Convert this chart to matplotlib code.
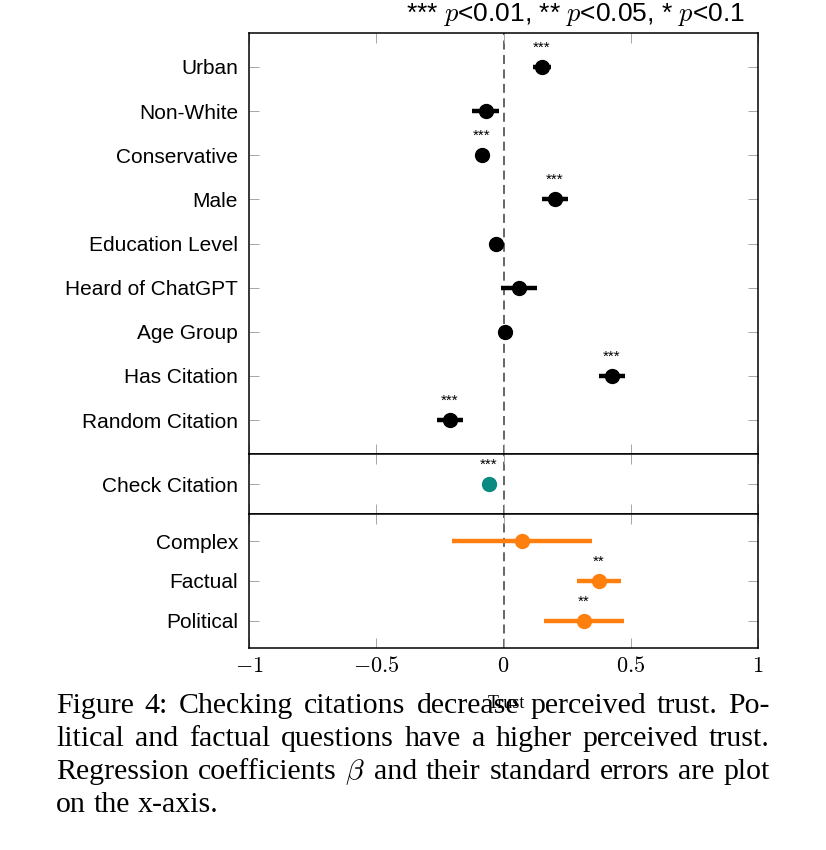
import matplotlib
matplotlib.use("Agg")
import matplotlib.pyplot as plt
from matplotlib.ticker import FixedLocator, FuncFormatter

plt.rcParams['mathtext.fontset'] = 'cm'
plt.rcParams['font.family'] = ['Liberation Sans', 'DejaVu Sans']

# coefficients and standard errors
top_labels = ['Urban', 'Non-White', 'Conservative', 'Male', 'Education Level',
              'Heard of ChatGPT', 'Age Group', 'Has Citation', 'Random Citation']
top_coef = [0.151, -0.069, -0.085, 0.202, -0.030, 0.061, 0.006, 0.426, -0.210]
top_err = [0.037, 0.053, 0.010, 0.050, 0.015, 0.069, 0.008, 0.050, 0.050]
top_stars = ['***', '', '***', '***', '', '', '', '***', '***']

mid_labels = ['Check Citation']
mid_coef = [-0.057]
mid_err = [0.010]
mid_stars = ['***']

bot_labels = ['Complex', 'Factual', 'Political']
bot_coef = [0.073, 0.375, 0.316]
bot_err = [0.275, 0.086, 0.157]
bot_stars = ['', '**', '**']

xticks = [-1, -0.5, 0, 0.5, 1]

caption = [
    "Figure 4: Checking citations decrease perceived trust. Po-",
    "litical and factual questions have a higher perceived trust.",
    "Regression coefficients $\\beta$ and their standard errors are plot",
    "on the x-axis.",
]

W, H = 826, 850
fig = plt.figure(figsize=(W / 100, H / 100), dpi=100)


def px_axes(top, bottom):
    return fig.add_axes([249 / W, (H - bottom) / H, 509 / W, (bottom - top) / H])


def panel(ax, labels, coef, err, stars, color, pad):
    n = len(labels)
    ys = list(range(n))
    ax.errorbar(coef, ys, xerr=err, fmt='o', color=color, ms=10, elinewidth=3.2,
                capsize=0, zorder=3)
    for x, y, s in zip(coef, ys, stars):
        if s:
            ax.annotate(s, (x, y), xytext=(0, 14), textcoords='offset points',
                        ha='center', va='center', fontsize=11)
    ax.axvline(0, color='0.35', lw=1.3, ls=(0, (5, 3)), zorder=1)
    ax.set_xlim(-1, 1)
    ax.set_ylim(n - 1 + pad, -pad)
    ax.set_yticks(ys)
    ax.set_yticklabels(labels, fontsize=15)
    ax.xaxis.set_major_locator(FixedLocator(xticks))
    ax.tick_params(direction='in', length=7, width=0.7, color='0.65',
                   top=True, right=True, pad=8)
    for sp in ax.spines.values():
        sp.set_linewidth(1.1)


ax1 = px_axes(33, 454)
panel(ax1, top_labels, top_coef, top_err, top_stars, 'black', 0.77)
ax2 = px_axes(454, 514)
panel(ax2, mid_labels, mid_coef, mid_err, mid_stars, '#0a8a80', 0.5)
ax3 = px_axes(514, 648)
panel(ax3, bot_labels, bot_coef, bot_err, bot_stars, '#ff7f0e', 0.68)

for ax in (ax1, ax2):
    ax.tick_params(labelbottom=False)
ax3.xaxis.set_major_formatter(FuncFormatter(lambda v, p: '$%g$' % v))
ax3.tick_params(axis='x', labelsize=16, pad=6)

fig.text(745 / W, (H - 14) / H, "*** $p$<0.01, ** $p$<0.05, * $p$<0.1",
         ha='right', va='center', fontsize=19)

# caption, justified line by line
renderer = fig.canvas.get_renderer()
left, right = 56, 770
cap_size = 21.5
for i, line in enumerate(caption):
    yc = 1 - (706 + 33 * i) / H
    words = line.split(' ')
    texts = [fig.text(0, yc, w, fontsize=cap_size, family='Liberation Serif',
                      va='center', ha='left') for w in words]
    widths = [t.get_window_extent(renderer).width for t in texts]
    if i < len(caption) - 1:
        gap = (right - left - sum(widths)) / (len(words) - 1)
    else:
        sp = fig.text(0, 0, 'a b', fontsize=cap_size, family='Liberation Serif')
        ab = fig.text(0, 0, 'ab', fontsize=cap_size, family='Liberation Serif')
        gap = sp.get_window_extent(renderer).width - ab.get_window_extent(renderer).width
        sp.remove()
        ab.remove()
    x = left
    for t, w in zip(texts, widths):
        t.set_x(x / W)
        x += w + gap

fig.text(506 / W, 1 - 703 / H, 'Trust', ha='center', va='center', fontsize=13,
         family='Liberation Serif', zorder=5)

fig.savefig('out.png', dpi=100)
